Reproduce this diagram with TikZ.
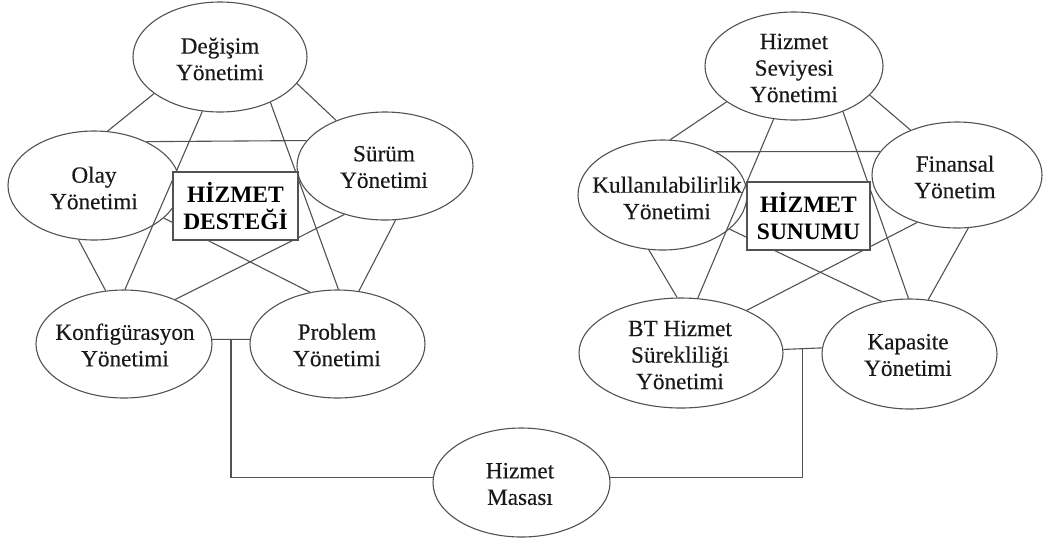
\documentclass[tikz,border=0pt]{standalone}
\usepackage{fontspec}
\setmainfont{Liberation Serif}
\newfontfamily\procfont[FakeBold=0.35]{Liberation Serif}
\usetikzlibrary{shapes.geometric}
\definecolor{linec}{gray}{0.32}
\begin{document}
\begin{tikzpicture}[x=1pt,y=-1pt,
  proc/.style 2 args={ellipse, draw=linec, line width=1.1pt, inner sep=0pt,
    minimum width=#1, minimum height=#2},
  lbl/.style={inner sep=0pt, align=center, text=black!90,
    font=\procfont\fontsize{23.2}{26.5}\selectfont},
  groupbox/.style={rectangle, draw=linec, fill=white, line width=1.1pt, inner sep=0pt,
    align=center, font=\fontsize{23.5}{27}\selectfont\bfseries},
  link/.style={draw=linec, line width=1.1pt}]
\useasboundingbox (0,0) rectangle (1043,542);

% service support processes
\node[proc={174pt}{110pt}] (deg)   at (220,57)    {};
\node[proc={172pt}{109pt}] (olay)  at (94,185.5)  {};
\node[proc={176pt}{108pt}] (surum) at (385,166)   {};
\node[proc={176pt}{108pt}] (konf)  at (124,344)   {};
\node[proc={175pt}{108pt}] (prob)  at (337.5,344) {};

% service delivery processes
\node[proc={178pt}{108pt}] (hs)  at (794,66)    {};
\node[proc={169pt}{110pt}] (kul) at (662.5,195) {};
\node[proc={170pt}{106pt}] (fin) at (957,175)   {};
\node[proc={204pt}{110pt}] (bt)  at (681,353)   {};
\node[proc={175pt}{110pt}] (kap) at (909.5,354) {};

% service desk
\node[proc={177pt}{109pt}] (masa) at (521.5,482.5) {};

% labels
\node[lbl] (deg-t)   at (220,59)  {Değişim\\Yönetimi};
\node[lbl] (olay-t)  at (94,188)  {Olay\\Yönetimi};
\node[lbl] (surum-t) at (384,167) {Sürüm\\Yönetimi};
\node[lbl] (konf-t)  at (125,345) {Konfigürasyon\\Yönetimi};
\node[lbl] (prob-t)  at (337,345) {Problem\\Yönetimi};
\node[lbl] (hs-t)    at (794,68)  {Hizmet\\Seviyesi\\Yönetimi};
\node[lbl] (kul-t)   at (667,198) {Kullanılabilirlik\\Yönetimi};
\node[lbl] (fin-t)   at (955,177) {Finansal\\Yönetim};
\node[lbl] (bt-t)    at (680,355) {BT Hizmet\\Sürekliliği\\Yönetimi};
\node[lbl] (kap-t)   at (908,355) {Kapasite\\Yönetimi};
\node[lbl] (masa-t)  at (520,484) {Hizmet\\Masası};

% links among service support processes
\begin{scope}[link]
\draw (deg.-151.5) -- (olay.76.2);
\draw (deg.-19.1)  -- (surum.137.4);
\draw (olay.40)    -- (surum.162);
\draw (deg.-108.1) -- (konf.89);
\draw (deg.-42.6)  -- (prob.89.5);
\draw (olay.-106.4) -- (konf.109.4);
\draw (surum.-79.5) -- (prob.68.7);
\draw (olay.-25.9) -- (prob.118.3);
\draw (konf.41.4)  -- (surum.-130.8);

% links among service delivery processes
\draw (hs.-152.5) -- (kul.82.2);
\draw (hs.-21.7)  -- (fin.136.8);
\draw (kul.39.3)  -- (fin.163);
\draw (hs.-111.3) -- (bt.73.5);
\draw (hs.-43.8)  -- (kap.91.6);
\draw (kul.-104.8) -- (bt.94.2);
\draw (fin.-78.3) -- (kap.71.1);
\draw (kul.-27.3) -- (kap.118.6);
\draw (bt.33.9)   -- (fin.-130.9);

% service desk connections
\draw (konf.3) -- coordinate (jl) (prob.177);
\draw (jl) |- (masa.177);
\draw (bt.2.2) -- coordinate (jr) (kap.176.7);
\draw (jr) |- (masa.3);
\end{scope}

% group titles
\node[groupbox, minimum width=125pt, minimum height=68pt] (destek) at (235.5,206)
  {HİZMET\\DESTEĞİ};
\node[groupbox, minimum width=123pt, minimum height=68pt] (sunum) at (808.5,216)
  {HİZMET\\SUNUMU};
\end{tikzpicture}
\end{document}
